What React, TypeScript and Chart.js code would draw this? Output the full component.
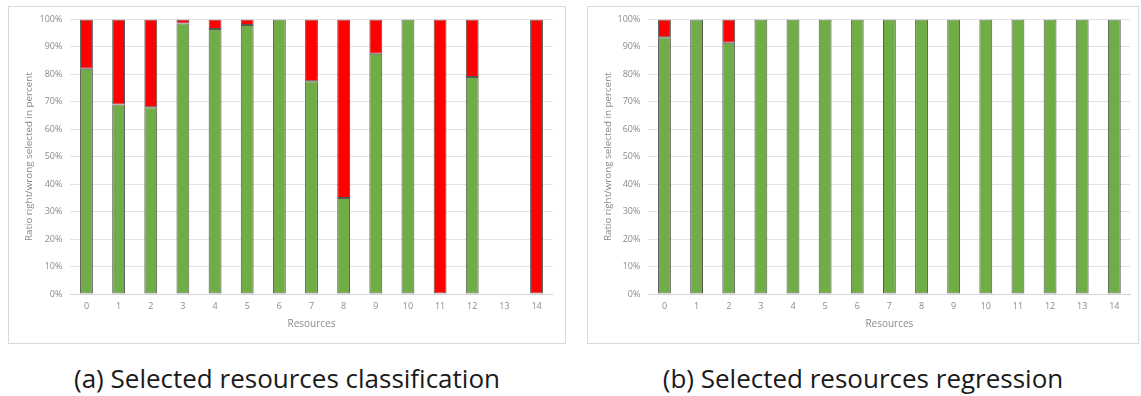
import React, { useEffect, useRef } from "react";
import { Chart, registerables } from "chart.js";

Chart.register(...registerables);

// Resource ids on the x axis
const resources = ["0", "1", "2", "3", "4", "5", "6", "7", "8", "9", "10", "11", "12", "13", "14"];

// (a) classification: share of right / wrong selections per resource (percent)
const classRight: (number | null)[] = [82, 69, 68, 98.5, 96.5, 98, 100, 77.5, 35, 87.5, 100, 0, 79, null, 0];
const classWrong: (number | null)[] = [18, 31, 32, 1.5, 3.5, 2, 0, 22.5, 65, 12.5, 0, 100, 21, null, 100];

// (b) regression: share of right / wrong selections per resource (percent)
const regRight: (number | null)[] = [93.5, 100, 91.5, 100, 100, 100, 100, 100, 100, 100, 100, 100, 100, 100, 100];
const regWrong: (number | null)[] = [6.5, 0, 8.5, 0, 0, 0, 0, 0, 0, 0, 0, 0, 0, 0, 0];

const yTicks = [0, 10, 20, 30, 40, 50, 60, 70, 80, 90, 100];

const captionA = "(a) Selected resources classification";
const captionB = "(b) Selected resources regression";
const xTitle = "Resources";
const yTitle = "Ratio right/wrong selected in percent";

const GREEN = "#70ad47";
const RED = "#ff0000";
const EDGE = "rgba(45,45,45,0.8)";
const TEXT = "#8a8a8a";
const GRID = "#e2e2e2";

type PanelProps = {
  left: number;
  width: number;
  right: (number | null)[];
  wrong: (number | null)[];
  plotLeft: number;
  plotRight: number;
  caption: string;
};

const TOP = 6;
const HEIGHT = 338;
const PLOT_TOP = 13;
const PLOT_BOTTOM = 288;

function Panel({ left, width, right, wrong, plotLeft, plotRight, caption }: PanelProps) {
  const ref = useRef<HTMLCanvasElement | null>(null);

  useEffect(() => {
    const canvas = ref.current;
    if (!canvas) return;
    const font = { family: "'Open Sans', sans-serif", size: 9 };
    const chart = new Chart(canvas, {
      type: "bar",
      data: {
        labels: resources,
        datasets: [
          {
            label: "right",
            data: right,
            backgroundColor: GREEN,
            borderColor: EDGE,
            borderWidth: 1,
            borderSkipped: false,
          },
          {
            label: "wrong",
            data: wrong,
            backgroundColor: RED,
            borderColor: EDGE,
            borderWidth: 1,
            borderSkipped: false,
          },
        ],
      },
      options: {
        responsive: false,
        animation: false,
        devicePixelRatio: 1,
        datasets: { bar: { categoryPercentage: 1, barPercentage: 0.4 } },
        layout: { padding: { left: 0, top: PLOT_TOP, right: width - plotRight, bottom: 0 } },
        plugins: { legend: { display: false }, tooltip: { enabled: false } },
        scales: {
          x: {
            stacked: true,
            grid: { display: false, drawTicks: false },
            border: { display: true, color: "#d4d4d4" },
            ticks: { color: TEXT, font, padding: 7 },
            title: {
              display: true,
              text: xTitle,
              color: TEXT,
              font: { family: "'Open Sans', sans-serif", size: 10 },
              padding: { top: 0, bottom: 14 },
            },
            afterFit: (s: any) => {
              s.height = HEIGHT - PLOT_BOTTOM;
            },
          },
          y: {
            stacked: true,
            min: 0,
            max: 100,
            afterBuildTicks: (s: any) => {
              s.ticks = yTicks.map((v) => ({ value: v }));
            },
            grid: { color: GRID, drawTicks: false },
            border: { display: false },
            ticks: {
              color: TEXT,
              font,
              padding: 8,
              callback: (v: any) => `${v}%`,
            },
            title: {
              display: true,
              text: yTitle,
              color: TEXT,
              font: { family: "'Open Sans', sans-serif", size: 9.8 },
              padding: { top: 15, bottom: 0 },
            },
            afterFit: (s: any) => {
              s.width = plotLeft;
            },
          },
        },
      },
    });
    return () => chart.destroy();
  }, []);

  return (
    <>
      <div
        style={{
          position: "absolute",
          left,
          top: TOP,
          width,
          height: HEIGHT,
          boxSizing: "border-box",
          border: "1px solid #d9d9d9",
          background: "#fff",
        }}
      />
      <canvas
        ref={ref}
        width={width}
        height={HEIGHT}
        style={{ position: "absolute", left, top: TOP, width, height: HEIGHT }}
      />
      <div
        style={{
          position: "absolute",
          left,
          top: 362,
          width,
          textAlign: "center",
          fontFamily: "'Open Sans', sans-serif",
          fontSize: 26,
          lineHeight: "32px",
          color: "#1a1a1a",
          whiteSpace: "nowrap",
        }}
      >
        {caption}
      </div>
    </>
  );
}

export default function App() {
  return (
    <div
      style={{
        position: "absolute",
        left: 0,
        top: 0,
        width: 1141,
        height: 396,
        background: "#fff",
        overflow: "hidden",
      }}
    >
      <Panel left={8} width={558} right={classRight} wrong={classWrong} plotLeft={62.4} plotRight={544.6} caption={captionA} />
      <Panel left={587} width={552} right={regRight} wrong={regWrong} plotLeft={61.4} plotRight={543.4} caption={captionB} />
    </div>
  );
}
